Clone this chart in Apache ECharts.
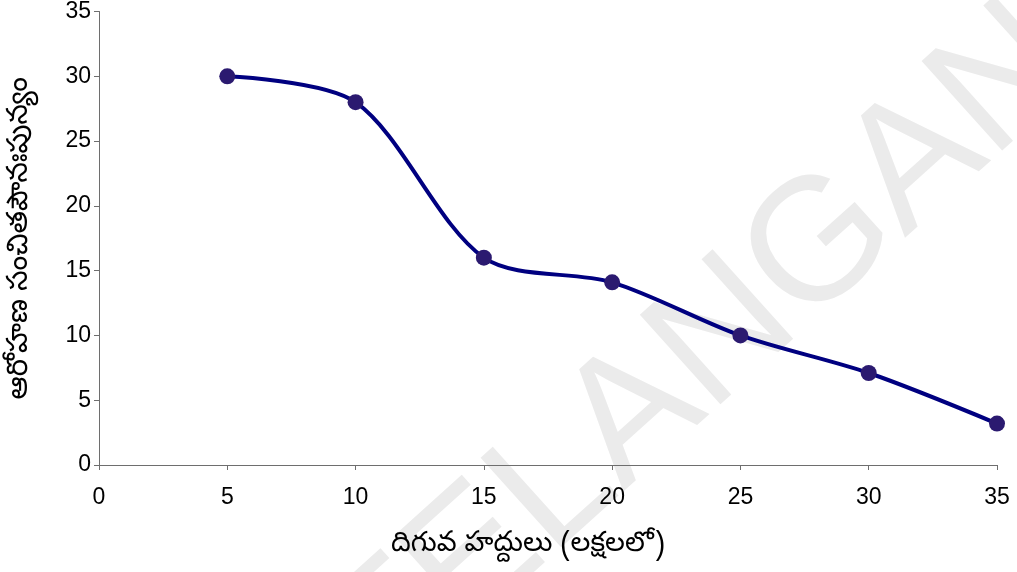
<!DOCTYPE html>
<html>
<head>
<meta charset="utf-8">
<script src="https://cdn.jsdelivr.net/npm/echarts@6/dist/echarts.min.js"></script>
<style>html,body{margin:0;padding:0;background:#fff}#c{width:1017px;height:572px}</style>
</head>
<body>
<div id="c"></div>
<script>
const xValues = [5, 10, 15, 20, 25, 30, 35];
const yValues = [30, 28, 16, 14.1, 10, 7.1, 3.2];
const xAxisName = 'దిగువ హద్దులు (లక్షలలో)';
const yAxisName = 'ఆరోహణ సంచితపౌనఃపున్యం';
const watermarkText = 'TELANGANA';

const chart = echarts.init(document.getElementById('c'), null, {renderer: 'canvas'});
const axisCommon = {
  axisLine: {show: true, lineStyle: {color: '#6e6e6e', width: 1}},
  axisTick: {show: true, inside: false, length: 5, lineStyle: {color: '#6e6e6e'}},
  splitLine: {show: false},
  axisLabel: {color: '#000', fontSize: 23, fontFamily: 'Liberation Sans, Arial, sans-serif'},
  nameTextStyle: {color: '#000', fontSize: 28, fontFamily: 'Noto Sans Telugu, Noto Sans, sans-serif'}
};
chart.setOption({
  animation: false,
  backgroundColor: '#fff',
  graphic: [{
    type: 'text',
    z: -10,
    x: 746, y: 316,
    rotation: 42 * Math.PI / 180,
    style: {
      text: watermarkText,
      fill: '#ebebeb',
      fontSize: 175,
      fontFamily: 'Liberation Sans, Arial, sans-serif',
      align: 'center',
      verticalAlign: 'middle'
    },
    silent: true
  }],
  grid: {left: 97, right: 20, top: 10, bottom: 107, containLabel: false},
  xAxis: Object.assign({}, axisCommon, {
    type: 'value', min: 0, max: 35, interval: 5,
    name: xAxisName, nameLocation: 'middle', nameGap: 68,
    nameTextStyle: Object.assign({}, axisCommon.nameTextStyle, {padding: [0, 40, 0, 0]}),
    axisLabel: Object.assign({}, axisCommon.axisLabel, {margin: 21})
  }),
  yAxis: Object.assign({}, axisCommon, {
    type: 'value', min: 0, max: 35, interval: 5,
    name: yAxisName, nameLocation: 'middle', nameGap: 62, nameRotate: 90,
    nameTextStyle: Object.assign({}, axisCommon.nameTextStyle, {fontSize: 29}),
    axisLabel: Object.assign({}, axisCommon.axisLabel, {margin: 8})
  }),
  series: [{
    type: 'line',
    data: xValues.map((x, i) => [x, yValues[i]]),
    smooth: 0.3,
    symbol: 'circle',
    symbolSize: 16,
    lineStyle: {color: '#000080', width: 4},
    itemStyle: {color: '#2b1a70', borderWidth: 0}
  }]
});
</script>
</body>
</html>
